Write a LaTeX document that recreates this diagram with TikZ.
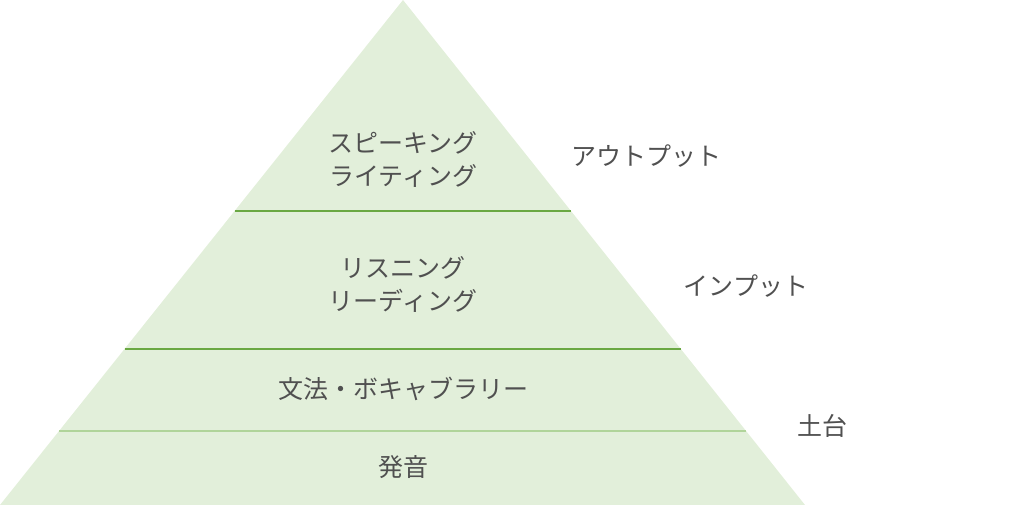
\documentclass[tikz,border=0pt]{standalone}
\usepackage{fontspec}
\setmainfont{Noto Sans CJK JP}
\definecolor{pyrfill}{HTML}{E2EFDA}
\definecolor{pyrline}{HTML}{6AA843}
\definecolor{pyrlight}{HTML}{B0D49A}
\definecolor{txtgray}{HTML}{505050}
\tikzset{lbl/.style={text=txtgray,font=\fontsize{25}{33}\selectfont,align=center,inner sep=0pt}}
\begin{document}
\begin{tikzpicture}[x=1pt,y=-1pt]
 \useasboundingbox (0,0) rectangle (1024,505);
 \fill[pyrfill](403,0)--(805,505)--(0,505)--cycle;
 \draw[pyrline,line width=1.2pt](234.6,211)--(571,211);
 \draw[pyrline,line width=1.2pt](124.5,349)--(680.8,349);
 \draw[pyrlight,line width=1.2pt](59,431)--(746,431);
 \node[lbl] (speak) at (403,159) {スピーキング\\ライティング};
 \node[lbl] (listen) at (403,284) {リスニング\\リーディング};
 \node[lbl] (vocab) at (403,389) {文法・ボキャブラリー};
 \node[lbl] (pron) at (403,467) {発音};
 \node[lbl] (output) at (646,156) {アウトプット};
 \node[lbl] (input) at (746,286) {インプット};
 \node[lbl] (base) at (822,426) {土台};
\end{tikzpicture}
\end{document}
